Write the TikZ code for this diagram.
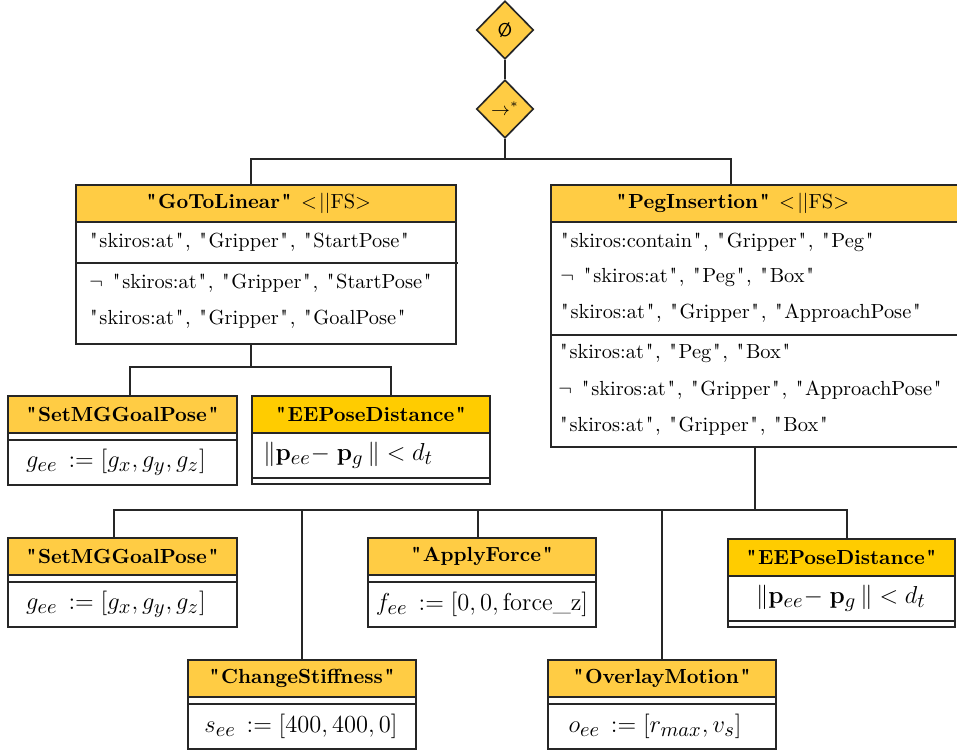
\documentclass[tikz,border=0pt]{standalone}
\usepackage{fontspec}
\setmainfont{Latin Modern Roman}[Ligatures=TeXOff]
\DeclareMathSizes{12}{12}{10}{7}
\usetikzlibrary{shapes.geometric,fit}

\definecolor{hdr}{RGB}{255,204,68}
\definecolor{hdrdeep}{RGB}{255,204,0}

\tikzset{
  frame/.style={draw=black!85, line width=0.8pt, inner sep=0pt},
  rule/.style={draw=black!85, line width=0.8pt},
  link/.style={draw=black!85, line width=0.7pt},
  title/.style={inner sep=0pt, font=\bfseries},
  formula/.style={inner sep=0pt, font=\large},
  fact/.style={inner sep=0pt, anchor=west},
  gate/.style={diamond, draw=black!85, line width=0.8pt, fill=hdr,
    inner sep=0pt, minimum width=28pt, minimum height=28.5pt},
}
% quoted word with a little room round the straight quotes
\newcommand\qw[1]{\kern0.85pt\relax"\kern0.85pt\relax#1\kern0.85pt\relax"\kern0.85pt\relax}
\newcommand\negfact{$\neg$\hspace{4pt}}

% action skill: header, empty compartment, body
% #1 body options, #2 name, #3 left, #4 top, #5 right, #6 title, #7 body x, #8 body
\newcommand\actbox[8][]{%
  \fill[hdr] (#3,#4) rectangle (#5,#4+37);
  \draw[rule] (#3,#4+37) -- (#5,#4+37) (#3,#4+44) -- (#5,#4+44);
  \node[frame, fit={(#3,#4) (#5,#4+89)}] (#2) {};
  \node[title] (#2-title) at ({(#3+#5)/2},#4+18.5) {#6};
  \node[formula,#1] (#2-body) at (#7,#4+66.5) {#8};
}
% condition skill: header, body, empty compartment
\newcommand\condbox[8][]{%
  \fill[hdrdeep] (#3,#4) rectangle (#5,#4+37);
  \draw[rule] (#3,#4+37) -- (#5,#4+37) (#3,#4+82) -- (#5,#4+82);
  \node[frame, fit={(#3,#4) (#5,#4+88)}] (#2) {};
  \node[title] (#2-title) at ({(#3+#5)/2},#4+18.5) {#6};
  \node[formula,#1] (#2-body) at (#7,#4+59.5) {#8};
}

\begin{document}
\begin{tikzpicture}[x=0.49pt, y=-0.49pt]
\useasboundingbox (0,0) rectangle (957,750);
\clip (0,0) rectangle (957,750);

% root selector and sequence
\node[gate] (d1) at (505,30) {\small\sffamily\O};
\node[gate] (d2) at (505,109) {\small$\rightarrow^{*}$};

% GoToLinear
\fill[hdr] (76,185) rectangle (456,222);
\node[frame, fit={(76,185) (456,344)}] (gtl) {};
\draw[rule] (76,222) -- (456,222);
\draw[rule] (76,263) -- (458,263);
\node[title] (gtl-title) at (258,203.5) {\qw{GoToLinear} \mdseries$<\!||$FS$>$};
\node[fact] (gtl-p1) at (88,242) {\qw{skiros:at}, \qw{Gripper}, \qw{StartPose}};
\node[fact] (gtl-e1) at (89,283) {\negfact\qw{skiros:at}, \qw{Gripper}, \qw{StartPose}};
\node[fact] (gtl-e2) at (88,319) {\qw{skiros:at}, \qw{Gripper}, \qw{GoalPose}};

% PegInsertion
\fill[hdr] (551,185) rectangle (980,222);
\node[frame, fit={(551,185) (980,447)}] (pi) {};
\draw[rule] (551,222) -- (980,222);
\draw[rule] (551,335) -- (980,335);
\node[title] (pi-title) at (732,203.5) {\qw{PegInsertion} \mdseries$<\!||$FS$>$};
\node[fact] (pi-p1) at (559,242) {\qw{skiros:contain}, \qw{Gripper}, \qw{Peg}};
\node[fact] (pi-p2) at (560,277) {\negfact\qw{skiros:at}, \qw{Peg}, \qw{Box}};
\node[fact] (pi-p3) at (559,313) {\qw{skiros:at}, \qw{Gripper}, \qw{ApproachPose}};
\node[fact] (pi-e1) at (558,353) {\qw{skiros:at}, \qw{Peg}, \qw{Box}};
\node[fact] (pi-e2) at (558,390) {\negfact\qw{skiros:at}, \qw{Gripper}, \qw{ApproachPose}};
\node[fact] (pi-e3) at (558,426) {\qw{skiros:at}, \qw{Gripper}, \qw{Box}};

% children of GoToLinear
\actbox{smga}{8}{396}{237}{\qw{SetMGGoalPose}}{116}{$g_{ee}\,:= [g_x, g_y, g_z]$}
\condbox[anchor=west]{eepa}{252}{396}{490}{\qw{EEPoseDistance}}{263}{$\|\mathbf{p}_{ee}{-}\;\mathbf{p}_g\,\| < d_t$}

% children of PegInsertion
\actbox{smgb}{8}{538}{237}{\qw{SetMGGoalPose}}{116}{$g_{ee}\,:= [g_x, g_y, g_z]$}
\actbox{af}{368}{538}{596}{\qw{ApplyForce}}{482}{$f_{ee}\,:= [0, 0, \mathrm{force\_z}]$}
\condbox{eepb}{728}{539}{955}{\qw{EEPoseDistance}}{841}{$\|\mathbf{p}_{ee}{-}\;\mathbf{p}_g\,\| < d_t$}
\actbox{cs}{188}{660}{416}{\qw{ChangeStiffness}}{301}{$s_{ee}\,:= [400, 400, 0]$}
\actbox{om}{548}{660}{776}{\qw{OverlayMotion}}{655}{$o_{ee}\,:= [r_{max}, v_s]$}

% connection points
\coordinate (fork1) at (505,159);
\coordinate (gtl-in) at (251,185);
\coordinate (pi-in) at (731,185);
\coordinate (gtl-out) at (251,344);
\coordinate (fork2) at (251,367);
\coordinate (smga-in) at (130,396);
\coordinate (eepa-in) at (391,396);
\coordinate (pi-out) at (755,447);
\coordinate (fork3) at (755,510);
\coordinate (smgb-in) at (114,538);
\coordinate (cs-in) at (302,660);
\coordinate (af-in) at (478,538);
\coordinate (om-in) at (662,660);
\coordinate (eepb-in) at (847,539);

% tree edges
\draw[link] (d1) -- (d2);
\draw[link] (d2) -- (fork1);
\draw[link] (fork1) -| (gtl-in);
\draw[link] (fork1) -| (pi-in);
\draw[link] (gtl-out) -- (fork2);
\draw[link] (fork2) -| (smga-in);
\draw[link] (fork2) -| (eepa-in);
\draw[link] (pi-out) -- (fork3);
\draw[link] (fork3) -| (smgb-in);
\draw[link] (fork3) -| (cs-in);
\draw[link] (fork3) -| (af-in);
\draw[link] (fork3) -| (om-in);
\draw[link] (fork3) -| (eepb-in);
\end{tikzpicture}
\end{document}
